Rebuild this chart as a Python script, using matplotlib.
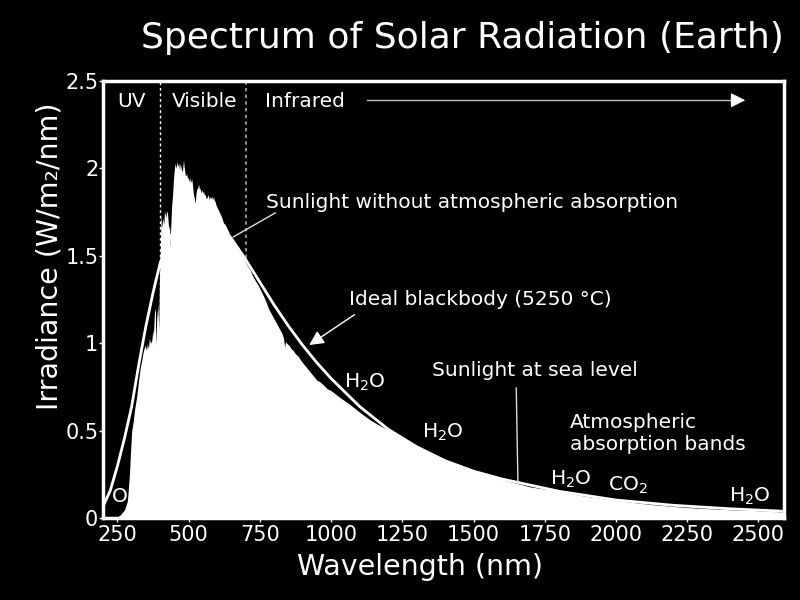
import matplotlib
matplotlib.use('Agg')
import matplotlib.pyplot as plt

plt.rcParams['mathtext.default'] = 'regular'

# Ideal blackbody curve
bb_wl = [200, 225, 250, 275, 300, 325, 350, 375, 400, 450, 500, 550, 600, 650, 700, 750, 800,
         850, 900, 950, 1000, 1100, 1200, 1300, 1400, 1500, 1600, 1800, 2000, 2200, 2400, 2600]
bb_val = [0.07, 0.16, 0.30, 0.46, 0.64, 0.88, 1.10, 1.29, 1.46, 1.66, 1.76, 1.76, 1.70, 1.60, 1.48,
          1.35, 1.22, 1.10, 0.99, 0.89, 0.80, 0.64, 0.51, 0.41, 0.33, 0.27, 0.225, 0.155, 0.105,
          0.075, 0.055, 0.04]

# Sunlight without atmospheric absorption
sun_wl = [200, 240, 260, 275, 285, 292, 296, 300, 305, 310, 318, 325, 330, 336, 340, 347,
          352, 355, 359, 362, 366, 371, 374, 376, 380, 383, 385, 388, 392, 395, 398, 400,
          403, 407, 410, 413, 415, 420, 423, 426, 430, 433, 435, 437, 440, 444, 447, 450,
          453, 456, 460, 463, 465, 468, 470, 474, 478, 480, 482, 484, 486, 488, 490, 493,
          495, 500, 503, 505, 508, 511, 514, 517, 520, 523, 526, 528, 532, 535, 538, 540,
          543, 546, 549, 552, 555, 558, 561, 564, 567, 570, 573, 575, 578, 581, 584, 587,
          590, 593, 596, 599, 605, 611, 616, 622, 628, 634, 640, 646, 652, 657, 663, 670,
          675, 681, 686, 692, 700, 708, 716, 723, 730, 737, 745, 754, 763, 771, 780, 790,
          800, 810, 820, 827, 833, 837, 840, 845, 852, 860, 867, 875, 883, 891, 900, 910,
          920, 930, 940, 950, 962, 975, 987, 1000, 1016, 1032, 1050, 1067, 1090, 1114, 1140,
          1172, 1200, 1231, 1260, 1290, 1320, 1348, 1375, 1400, 1430, 1465, 1500, 1540, 1582,
          1640, 1699, 1740, 1781, 1840, 1898, 1960, 2015, 2070, 2132, 2190, 2249, 2310, 2366,
          2420, 2483, 2540, 2590]
sun_val = [0.0, 0.0, 0.02, 0.05, 0.10, 0.25, 0.38, 0.50, 0.55, 0.62, 0.70, 0.80, 0.86, 0.91, 0.95, 0.99,
           0.96, 1.00, 0.97, 1.03, 1.00, 1.02, 1.08, 1.04, 1.18, 1.20, 0.99, 1.15, 1.22, 1.08, 1.40, 1.50,
           1.74, 1.66, 1.72, 1.68, 1.76, 1.72, 1.76, 1.74, 1.65, 1.68, 1.55, 1.66, 1.78, 1.86, 1.95, 2.00,
           2.03, 2.00, 2.04, 2.01, 2.03, 1.99, 2.03, 2.00, 1.98, 2.02, 2.05, 2.01, 1.99, 1.96, 1.96, 1.97,
           1.95, 1.94, 1.92, 1.95, 1.92, 1.94, 1.90, 1.85, 1.83, 1.80, 1.86, 1.88, 1.89, 1.91, 1.88, 1.89,
           1.86, 1.88, 1.86, 1.87, 1.85, 1.85, 1.83, 1.83, 1.85, 1.84, 1.82, 1.84, 1.83, 1.84, 1.82, 1.84,
           1.82, 1.81, 1.79, 1.78, 1.76, 1.74, 1.72, 1.69, 1.68, 1.66, 1.64, 1.61, 1.60, 1.59, 1.57, 1.55,
           1.53, 1.515, 1.50, 1.49, 1.46, 1.44, 1.42, 1.39, 1.37, 1.35, 1.33, 1.30, 1.27, 1.24, 1.20, 1.17,
           1.14, 1.11, 1.08, 1.06, 1.03, 0.98, 1.01, 1.00, 0.99, 0.97, 0.96, 0.94, 0.93, 0.91, 0.89, 0.87,
           0.85, 0.83, 0.81, 0.79, 0.78, 0.76, 0.74, 0.73, 0.71, 0.69, 0.67, 0.65, 0.62, 0.59, 0.56,
           0.53, 0.505, 0.48, 0.45, 0.42, 0.395, 0.373, 0.352, 0.335, 0.31, 0.287, 0.27, 0.25, 0.23,
           0.205, 0.18, 0.17, 0.16, 0.142, 0.125, 0.112, 0.10, 0.089, 0.078, 0.07, 0.062, 0.057, 0.052,
           0.048, 0.045, 0.04, 0.036]

x_ticks = [250, 500, 750, 1000, 1250, 1500, 1750, 2000, 2250, 2500]
y_ticks = [0, 0.5, 1, 1.5, 2, 2.5]
y_tick_labels = ['0', '0.5', '1', '1.5', '2', '2.5']

fig = plt.figure(figsize=(8, 6), dpi=100, facecolor='black')
ax = fig.add_axes([0.129, 0.136, 0.851, 0.729])
ax.set_facecolor('black')

# band boundaries (under the fill)
ax.axvline(400, color='white', linestyle=(0, (2, 2)), linewidth=1, zorder=1)
ax.axvline(700, color='#aaaaaa', linestyle=(0, (2, 2)), linewidth=1.2, zorder=1)

ax.fill_between(sun_wl, 0, sun_val, color='white', linewidth=0, zorder=2)
ax.plot(bb_wl, bb_val, color='white', linewidth=2, zorder=3)

ax.set_xlim(200, 2590)
ax.set_ylim(0, 2.5)
ax.set_xticks(x_ticks)
ax.set_yticks(y_ticks)
ax.set_yticklabels(y_tick_labels)
ax.tick_params(colors='white', labelsize=15, length=3, width=1, pad=2)
ax.tick_params(axis='y', pad=0.5)

for s in ax.spines.values():
    s.set_color('white')
    s.set_linewidth(2.5)

fig.text(0.525, 0.055, 'Wavelength (nm)', color='white', fontsize=20.5, ha='center', va='center')
fig.text(0.0625, 0.573, 'Irradiance (W/m₂/nm)', color='white', fontsize=20.5,
         ha='center', va='center', rotation=90)
fig.text(0.578, 0.937, 'Spectrum of Solar Radiation (Earth)', color='white', fontsize=26,
         ha='center', va='center')

tc = dict(color='white', fontsize=14.5)
ax.text(300, 2.385, 'UV', ha='center', va='center', **tc)
ax.text(556, 2.385, 'Visible', ha='center', va='center', **tc)
ax.text(768, 2.385, 'Infrared', ha='left', va='center', **tc)
ax.plot([1127, 2420], [2.39, 2.39], color='#bbbbbb', linewidth=1)
ax.annotate('', xy=(2464, 2.39), xytext=(2400, 2.39),
            arrowprops=dict(arrowstyle='-|>', color='white', lw=1, mutation_scale=22))

ax.text(772, 1.804, 'Sunlight without atmospheric absorption', ha='left', va='center', **tc)
ax.plot([804, 657], [1.746, 1.609], color='#dddddd', linewidth=1, zorder=4)

ax.text(1063, 1.254, 'Ideal blackbody (5250 °C)', ha='left', va='center', **tc)
ax.annotate('', xy=(915, 0.982), xytext=(1090, 1.173),
            arrowprops=dict(arrowstyle='-|>', color='white', lw=1, mutation_scale=22))

ax.text(1355, 0.846, 'Sunlight at sea level', ha='left', va='center', **tc)
ax.plot([1650, 1656], [0.745, 0.203], color='#dddddd', linewidth=1, zorder=4)

ax.text(1839, 0.485, 'Atmospheric\nabsorption bands', ha='left', va='center',
        linespacing=1.25, **tc)

ax.text(1117, 0.78, 'H$_2$O', ha='center', va='center', **tc)
ax.text(1393, 0.49, 'H$_2$O', ha='center', va='center', **tc)
ax.text(1843, 0.222, 'H$_2$O', ha='center', va='center', **tc)
ax.text(2040, 0.19, 'CO$_2$', ha='center', va='center', **tc)
ax.text(2471, 0.126, 'H$_2$O', ha='center', va='center', **tc)
ax.text(228, 0.12, 'O$_3$', ha='left', va='center', zorder=1, **tc)

fig.savefig('out.png', dpi=100, facecolor='black')
